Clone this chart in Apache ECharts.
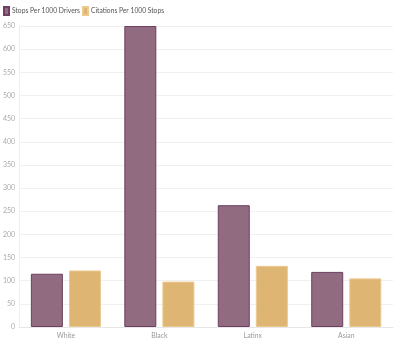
<!DOCTYPE html>
<html><head><meta charset="utf-8">
<script src="https://cdn.jsdelivr.net/npm/echarts@6/dist/echarts.min.js"></script>
<style>html,body{margin:0;padding:0;background:#fff}#c{width:395px;height:340px}</style>
</head><body><div id="c"></div>
<script>
const categories = ["White", "Black", "Latinx", "Asian"];
const stopsPer1000Drivers = [115, 650, 263, 119];
const citationsPer1000Stops = [122, 98, 132, 105];
const yTicks = {min: 0, max: 650, interval: 50};

const chart = echarts.init(document.getElementById('c'), null, {renderer: 'canvas'});
const font = 'Lato, "Open Sans", sans-serif';
chart.setOption({
  animation: false,
  textStyle: {fontFamily: font},
  legend: {
    left: 3, top: 6, padding: 0, itemWidth: 5, itemHeight: 8, itemGap: 2, icon: 'rect',
    textStyle: {fontSize: 6.7, color: '#555', fontFamily: font, padding: [0, 0, 0, -2]},
    data: ['Stops Per 1000 Drivers', 'Citations Per 1000 Stops']
  },
  grid: {left: 18, right: 2, top: 26, bottom: 13, containLabel: false},
  xAxis: {
    type: 'category', data: categories,
    axisLine: {lineStyle: {color: '#e6e6e6'}},
    axisTick: {show: false},
    axisLabel: {fontSize: 6.8, color: '#999', margin: 5, fontFamily: font}
  },
  yAxis: {
    type: 'value', min: yTicks.min, max: yTicks.max, interval: yTicks.interval,
    axisLine: {show: true, lineStyle: {color: '#eeeeee'}},
    axisTick: {show: false},
    splitLine: {lineStyle: {color: '#f0f0f0'}},
    axisLabel: {fontSize: 7, color: '#aaa', margin: 4, fontFamily: font}
  },
  series: [
    {
      name: 'Stops Per 1000 Drivers', type: 'bar', data: stopsPer1000Drivers,
      barGap: '19%', barCategoryGap: '25%',
      itemStyle: {color: '#916b80', borderColor: '#6e3f60', borderWidth: 1}
    },
    {
      name: 'Citations Per 1000 Stops', type: 'bar', data: citationsPer1000Stops,
      itemStyle: {color: '#deb573', borderColor: '#ecc98f', borderWidth: 1}
    }
  ]
});
</script></body></html>
